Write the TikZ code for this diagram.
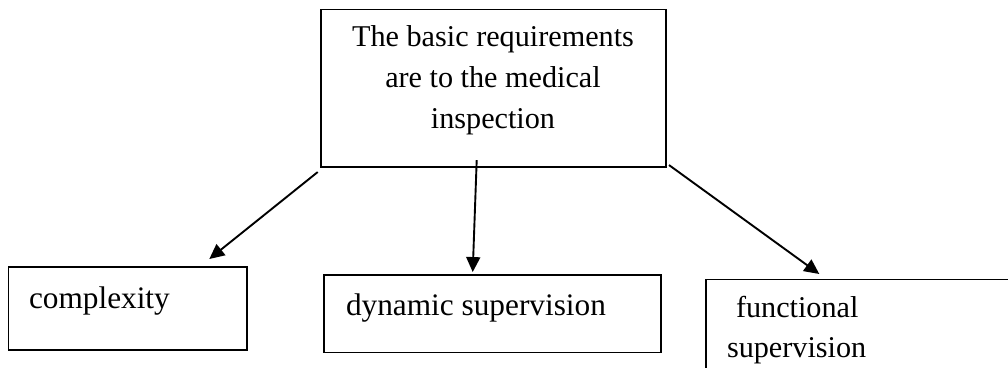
\documentclass[tikz,border=0pt]{standalone}
\usepackage{fontspec}
\setmainfont{Liberation Serif}
\usetikzlibrary{arrows.meta,calc}
\tikzset{
  box/.style={draw=black, line width=1.6pt, inner sep=0pt, outer sep=0pt, fill=none},
  txt/.style={inner sep=0pt, outer sep=0pt, anchor=base west, font=\fontsize{30.2}{40.8}\selectfont},
  ctxt/.style={inner sep=0pt, outer sep=0pt, anchor=base, font=\fontsize{30.2}{40.8}\selectfont},
  bigtxt/.style={txt, font=\fontsize{31.3}{40.8}\selectfont},
  conn/.style={line width=1.9pt, -{Triangle[length=15pt,width=14pt]}}
}
\begin{document}
\begin{tikzpicture}[x=1pt,y=-1pt]
\useasboundingbox (0,0) rectangle (1008,367);
\fill[white] (0,0) rectangle (1008,367);
\clip (0,0) rectangle (1008,367);
% boxes
\node[box, minimum width=345pt, minimum height=157.7pt] (top) at (493.2,88.2) {};
\node[box, minimum width=238.7pt, minimum height=83pt] (cplx) at (127.7,308.5) {};
\node[box, minimum width=337pt, minimum height=77.3pt] (dyn) at (492.5,313.7) {};
\node[box, minimum width=320pt, minimum height=150pt] (func) at (866,354.3) {};
% texts
\node[ctxt] (t1) at (493,46.7) {The basic requirements};
\node[ctxt] (t2) at (493,87.3) {are to the medical};
\node[ctxt] (t3) at (493,128.3) {inspection};
\node[bigtxt] (c1) at (29,308) {complexity};
\node[bigtxt] (d1) at (346,315) {dynamic supervision};
\node[txt] (f1) at (736,317) {functional};
\node[txt] (f2) at (727,357) {supervision};
% connectors
\draw[conn] ($(top.south west)+(-3,5)$) -- ($(cplx.north)+(81.6,-8)$);
\draw[conn] ($(top.south)+(-16.5,-7)$) -- ($(dyn.north)+(-19.8,-3)$);
\draw[conn] ($(top.south east)+(3.3,-2)$) -- ($(func.north west)+(113.3,-5.3)$);
\end{tikzpicture}
\end{document}
